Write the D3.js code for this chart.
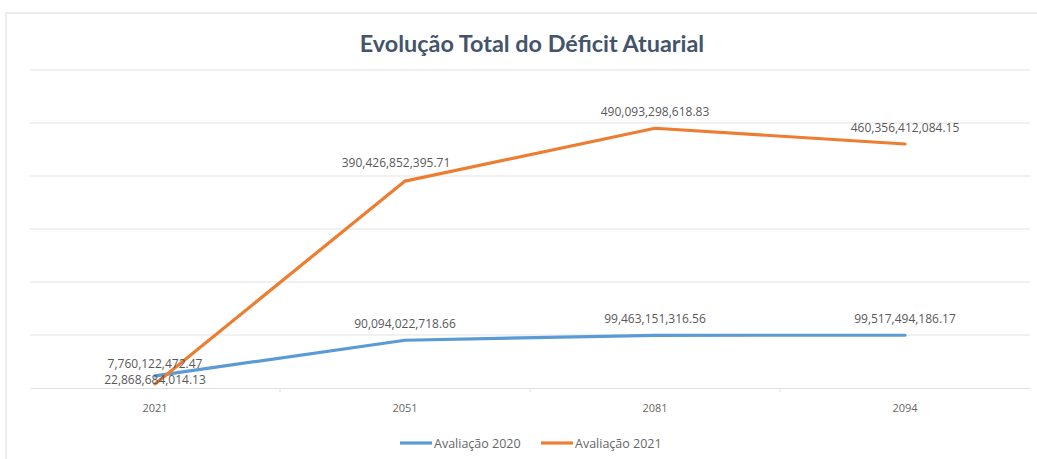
<!DOCTYPE html>
<html>
<head>
<meta charset="utf-8">
<script src="https://cdn.jsdelivr.net/npm/d3@7"></script>
<style>
  body { margin: 0; background: #fff; }
  #chart { position: absolute; left: 5px; top: 12px; width: 1040px; height: 460px; border: 2px solid #ececec; box-sizing: border-box; }
  svg { position: absolute; left: 0; top: 0; }
</style>
</head>
<body>
<div id="chart"></div>
<svg id="viz" width="1037" height="459"></svg>
<script>
const years = ['2021', '2051', '2081', '2094']
const aval2020 = [22868684014.13, 90094022718.66, 99463151316.56, 99517494186.17]
const aval2021 = [7760122472.47, 390426852395.71, 490093298618.83, 460356412084.15]
const yTicks = [0, 100e9, 200e9, 300e9, 400e9, 500e9, 600e9]

const series = [
  { name: 'Avaliação 2020', values: aval2020, color: '#5b9bd5' },
  { name: 'Avaliação 2021', values: aval2021, color: '#ed7d31' }
]

const svg = d3.select('#viz')
const fmt = d3.format(',.2f')

const xScale = d3.scaleBand().domain(years).range([30, 1030])
const yScale = d3.scaleLinear().domain([0, 600e9]).range([388, 70])
const cx = d => xScale(d) + xScale.bandwidth() / 2

// title
svg.append('text')
  .attr('x', 532)
  .attr('y', 52)
  .attr('text-anchor', 'middle')
  .attr('font-family', 'Lato, "Open Sans", sans-serif')
  .attr('font-size', 23.4)
  .attr('font-weight', 'bold')
  .attr('fill', '#44546a')
  .text('Evolução Total do Déficit Atuarial')

// gridlines
svg.append('g')
  .selectAll('line')
  .data(yTicks.slice(1))
  .enter().append('line')
  .attr('x1', 30)
  .attr('x2', 1030)
  .attr('y1', d => yScale(d))
  .attr('y2', d => yScale(d))
  .attr('stroke', '#ececec')
  .attr('stroke-width', 1.5)

// x axis
const xAxis = svg.append('g')
  .attr('transform', `translate(0,${yScale(0)})`)
  .call(d3.axisBottom(xScale).tickSize(0).tickPadding(16))
xAxis.select('.domain').attr('stroke', '#e0e0e0')
xAxis.selectAll('text')
  .attr('font-family', '"Open Sans", sans-serif')
  .attr('font-size', 11)
  .attr('fill', '#666')
xAxis.selectAll('.sep')
  .data(years.slice(1))
  .enter().append('line')
  .attr('x1', d => xScale(d))
  .attr('x2', d => xScale(d))
  .attr('y1', 0)
  .attr('y2', 4)
  .attr('stroke', '#e0e0e0')

const line = d3.line()
  .x((d, i) => cx(years[i]))
  .y(d => yScale(d))

series.forEach(s => {
  svg.append('path')
    .datum(s.values)
    .attr('d', line)
    .attr('fill', 'none')
    .attr('stroke', s.color)
    .attr('stroke-width', 3.2)
    .attr('stroke-linejoin', 'round')
    .attr('stroke-linecap', 'round')
})

// data labels (offsets from the point, as placed in the original)
const labelOffsets = {
  'Avaliação 2020': [[0, 8], [0, -12], [0, -12], [0, -12]],
  'Avaliação 2021': [[0, -16], [-9, -14], [0, -12], [0, -12]]
}
series.forEach(s => {
  svg.append('g')
    .selectAll('text')
    .data(s.values)
    .enter().append('text')
    .attr('x', (d, i) => cx(years[i]) + labelOffsets[s.name][i][0])
    .attr('y', (d, i) => yScale(d) + labelOffsets[s.name][i][1])
    .attr('text-anchor', 'middle')
    .attr('font-family', '"Open Sans", sans-serif')
    .attr('font-size', 12)
    .attr('fill', '#595959')
    .text(d => fmt(d))
})

// legend
const legend = svg.append('g')
  .attr('transform', 'translate(400,443)')
const legendX = [0, 141]
series.forEach((s, i) => {
  const g = legend.append('g').attr('transform', `translate(${legendX[i]},0)`)
  g.append('line')
    .attr('x1', 0).attr('x2', 32)
    .attr('y1', 0).attr('y2', 0)
    .attr('stroke', s.color)
    .attr('stroke-width', 3.2)
  g.append('text')
    .attr('x', 34)
    .attr('y', 4.5)
    .attr('font-family', '"Open Sans", sans-serif')
    .attr('font-size', 12.5)
    .attr('fill', '#666')
    .text(s.name)
})
</script>
</body>
</html>
